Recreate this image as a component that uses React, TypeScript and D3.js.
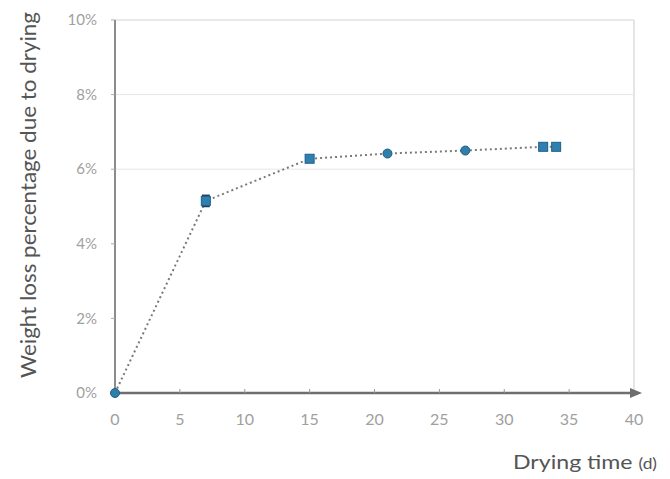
import React from "react";
import * as d3 from "d3";

const days = [0, 7, 15, 21, 27, 33, 34];
const weightLoss = [0, 5.15, 6.28, 6.42, 6.5, 6.6, 6.6];
const errLow = [0, 0.15, 0.05, 0.05, 0.05, 0.07, 0.07];
const markerShape = ["circle", "square", "square", "circle", "circle", "square", "square"];
const xTicks = [0, 5, 10, 15, 20, 25, 30, 35, 40];
const yTicks = [0, 2, 4, 6, 8, 10];
const yGrid = [6, 8];

const W = 670, H = 479;
const left = 115, right = 634, top = 20, bottom = 393;

export default function App() {
  const x = d3.scaleLinear().domain([0, 40]).range([left, right]);
  const y = d3.scaleLinear().domain([0, 10]).range([bottom, top]);
  const line = d3.line<number>().x((_, i) => x(days[i])).y((d) => y(d));
  const font = "Lato, 'Open Sans', sans-serif";
  return (
    <svg width={W} height={H} style={{ position: "absolute", left: 0, top: 0, background: "#fff" }}>
      {/* frame */}
      <line x1={left} x2={right} y1={y(10)} y2={y(10)} stroke="#d4d4d4" strokeWidth={1.2} />
      <line x1={right} x2={right} y1={y(10)} y2={bottom} stroke="#d4d4d4" strokeWidth={1.2} />
      {yGrid.map((t) => (
        <line key={t} x1={left} x2={right} y1={y(t)} y2={y(t)} stroke="#e6e6e6" strokeWidth={1} />
      ))}
      {/* y axis */}
      <line x1={left} x2={left} y1={y(10)} y2={bottom} stroke="#8c8c8c" strokeWidth={2} />
      {yTicks.map((t) => (
        <g key={t}>
          <line x1={left - 4} x2={left} y1={y(t)} y2={y(t)} stroke="#aaa" />
          <text x={left - 18} y={y(t)} dy="0.35em" textAnchor="end" fill="#a0a0a0" fontSize={15} fontFamily={font}>
            {t}%
          </text>
        </g>
      ))}
      {/* x axis */}
      <line x1={left} x2={right + 4} y1={bottom} y2={bottom} stroke="#6e6e6e" strokeWidth={2.5} />
      <path d={`M${right + 8},${bottom} L${right - 4},${bottom - 5} L${right - 4},${bottom + 5} Z`} fill="#6e6e6e" />
      {xTicks.map((t) => (
        <g key={t}>
          {t > 0 && t < 40 && <line x1={x(t)} x2={x(t)} y1={bottom - 4} y2={bottom} stroke="#999" />}
          <text x={x(t)} y={bottom + 32} textAnchor="middle" fill="#a0a0a0" fontSize={16} fontFamily={font}>
            {t}
          </text>
        </g>
      ))}
      {/* series */}
      <path d={line(weightLoss) || ""} fill="none" stroke="#7a7a7a" strokeWidth={2} strokeDasharray="2 3" />
      {days.map((d, i) => (
        <g key={i}>
          {errLow[i] > 0.1 && (
            <g stroke="#1f3f66" strokeWidth={1.5}>
              <line x1={x(d)} x2={x(d)} y1={y(weightLoss[i] + errLow[i])} y2={y(weightLoss[i] - errLow[i])} />
              <line x1={x(d) - 4} x2={x(d) + 4} y1={y(weightLoss[i] + errLow[i])} y2={y(weightLoss[i] + errLow[i])} />
              <line x1={x(d) - 4} x2={x(d) + 4} y1={y(weightLoss[i] - errLow[i])} y2={y(weightLoss[i] - errLow[i])} />
            </g>
          )}
          {markerShape[i] === "circle" ? (
            <circle cx={x(d)} cy={y(weightLoss[i])} r={4.5} fill="#2f7fa8" stroke="#1e5f86" strokeWidth={1} />
          ) : (
            <rect x={x(d) - 4.5} y={y(weightLoss[i]) - 4.5} width={9} height={9} fill="#2f80b0" stroke="#1e5f86" strokeWidth={1} />
          )}
        </g>
      ))}
      {/* labels */}
      <text
        transform={`translate(36, 195) rotate(-90)`}
        textAnchor="middle"
        fill="#555"
        fontSize={21}
        fontFamily={font}
        textLength={366}
        lengthAdjust="spacingAndGlyphs"
      >
        Weight loss percentage due to drying
      </text>
      <text x={513} y={469} fill="#555" fontSize={20} fontFamily={font} textLength={144} lengthAdjust="spacingAndGlyphs">
        Drying time <tspan fontSize={15}>(d)</tspan>
      </text>
    </svg>
  );
}
